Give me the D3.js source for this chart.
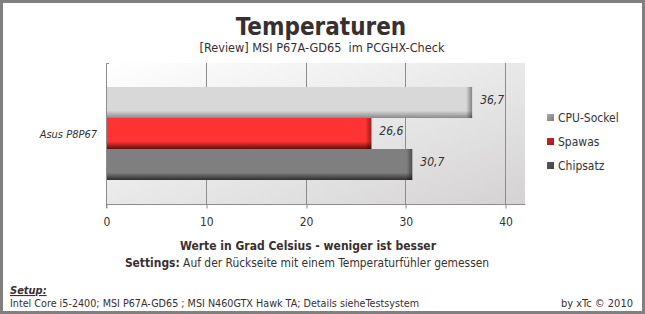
<!DOCTYPE html>
<html>
<head>
<meta charset="utf-8">
<script src="https://cdn.jsdelivr.net/npm/d3@7"></script>
<style>
  body { margin: 0; background: #fff; }
  svg { display: block; }
  text { font-family: "DejaVu Sans Condensed", "DejaVu Sans", sans-serif; fill: #383030; }
</style>
</head>
<body>
<div class="canvas"></div>
<script>
// data
const categories = ['Asus P8P67'];
const seriesNames = ['CPU-Sockel', 'Spawas', 'Chipsatz'];
const seriesValues = [36.7, 26.6, 30.7];
const xTicks = [0, 10, 20, 30, 40];

const barColors = {
    'CPU-Sockel': { base: '#d8d8d8', dark: '#8a8a8a', legend: '#8c8c8c' },
    'Spawas': { base: '#ff3333', dark: '#5a1010', legend: '#a82020' },
    'Chipsatz': { base: '#7f7f7f', dark: '#2e2e2e', legend: '#4a4a4a' }
};

const width = 645, height = 314;

const svg = d3.select('.canvas')
    .append('svg')
    .attr('width', width)
    .attr('height', height);

const defs = svg.append('defs');

// plot background gradient
const bg = defs.append('linearGradient')
    .attr('id', 'bg')
    .attr('x1', '0%').attr('y1', '0%')
    .attr('x2', '100%').attr('y2', '100%');
bg.append('stop').attr('offset', '0%').attr('stop-color', '#ffffff');
bg.append('stop').attr('offset', '100%').attr('stop-color', '#d4d2d2');

// bar gradients (flat top, darker bottom edge)
seriesNames.forEach((name, i) => {
    const c = barColors[name];
    const g = defs.append('linearGradient')
        .attr('id', 'bar' + i)
        .attr('x1', 0).attr('y1', 0).attr('x2', 0).attr('y2', 1);
    g.append('stop').attr('offset', '0%').attr('stop-color', c.base);
    g.append('stop').attr('offset', '76%').attr('stop-color', c.base);
    g.append('stop').attr('offset', '100%').attr('stop-color', c.dark);

    const lg = defs.append('linearGradient')
        .attr('id', 'leg' + i)
        .attr('x1', 0).attr('y1', 0).attr('x2', 1).attr('y2', 1);
    lg.append('stop').attr('offset', '0%').attr('stop-color', d3.color(c.legend).brighter(0.6));
    lg.append('stop').attr('offset', '100%').attr('stop-color', d3.color(c.legend).darker(0.4));
});

const cap = defs.append('linearGradient')
    .attr('id', 'cap')
    .attr('x1', 0).attr('y1', 0).attr('x2', 1).attr('y2', 0);
cap.append('stop').attr('offset', '0%').attr('stop-color', '#000').attr('stop-opacity', 0);
cap.append('stop').attr('offset', '100%').attr('stop-color', '#000').attr('stop-opacity', 0.4);

// frame
svg.append('rect')
    .attr('x', 1.5).attr('y', 1.5)
    .attr('width', width - 3).attr('height', height - 3)
    .attr('fill', '#fff')
    .attr('stroke', '#808080')
    .attr('stroke-width', 3);

// plot area
const plot = { left: 106, right: 525, top: 63, bottom: 204 };

const x = d3.scaleLinear()
    .domain([0, 42])
    .range([plot.left, plot.right]);

const yCat = d3.scaleBand()
    .domain(categories)
    .range([plot.top, plot.bottom])
    .paddingInner(0)
    .paddingOuter(0.258);

const ySer = d3.scaleBand()
    .domain(seriesNames)
    .range([0, yCat.bandwidth()]);

svg.append('rect')
    .attr('x', plot.left).attr('y', plot.top)
    .attr('width', plot.right - plot.left)
    .attr('height', plot.bottom - plot.top)
    .attr('fill', 'url(#bg)');

// gridlines
svg.append('g')
    .selectAll('line')
    .data(xTicks.slice(1))
    .enter().append('line')
    .attr('x1', d => Math.round(x(d)) + 0.5)
    .attr('x2', d => Math.round(x(d)) + 0.5)
    .attr('y1', plot.top)
    .attr('y2', plot.bottom)
    .attr('stroke', '#8c8c8c');

// axes
const xAxis = d3.axisBottom(x)
    .tickValues(xTicks)
    .tickSize(4)
    .tickPadding(9)
    .tickFormat(d3.format('d'));

const xAxisGroup = svg.append('g')
    .attr('transform', `translate(0.5, ${plot.bottom + 0.5})`)
    .call(xAxis);

xAxisGroup.select('.domain')
    .attr('d', `M${plot.left - 0.5},0H${plot.right}`)
    .attr('stroke', '#8c8c8c');
xAxisGroup.selectAll('.tick line').attr('stroke', '#8c8c8c');
xAxisGroup.selectAll('.tick line')
    .attr('transform', d => `translate(${Math.round(x(d)) - x(d)},0)`);
xAxisGroup.selectAll('.tick text')
    .attr('font-size', 12)
    .attr('font-family', '"DejaVu Sans Condensed", "DejaVu Sans", sans-serif')
    .attr('fill', '#383030');

// left axis line
svg.append('path')
    .attr('d', `M${plot.left + 3},${plot.top + 0.5}H${plot.left + 0.5}V${plot.bottom + 4}`)
    .attr('fill', 'none')
    .attr('stroke', '#8c8c8c');

// category label
svg.selectAll('.cat')
    .data(categories)
    .enter().append('text')
    .attr('class', 'cat')
    .attr('x', 97)
    .attr('y', d => yCat(d) + yCat.bandwidth() / 2 + 4)
    .attr('text-anchor', 'end')
    .attr('font-size', 11)
    .attr('font-style', 'italic')
    .style('fill', '#333')
    .text(d => d);

// bars
const bars = svg.append('g')
    .attr('transform', `translate(0, ${yCat(categories[0])})`);

const barData = seriesNames.map((name, i) => ({ name, value: seriesValues[i], i }));

bars.selectAll('rect.bar')
    .data(barData)
    .enter().append('rect')
    .attr('class', 'bar')
    .attr('x', x(0) + 1)
    .attr('y', d => ySer(d.name))
    .attr('width', d => x(d.value) - x(0) - 1)
    .attr('height', ySer.bandwidth())
    .attr('fill', d => `url(#bar${d.i})`);

bars.selectAll('rect.cap')
    .data(barData)
    .enter().append('rect')
    .attr('class', 'cap')
    .attr('x', d => x(d.value) - 6)
    .attr('y', d => ySer(d.name))
    .attr('width', 6)
    .attr('height', ySer.bandwidth())
    .attr('fill', 'url(#cap)');

bars.selectAll('text.val')
    .data(barData)
    .enter().append('text')
    .attr('class', 'val')
    .attr('x', d => x(d.value) + 8)
    .attr('y', d => ySer(d.name) + ySer.bandwidth() / 2 + 2)
    .attr('font-size', 12)
    .attr('font-style', 'italic')
    .style('fill', '#333')
    .text(d => d3.format('.1f')(d.value).replace('.', ','));

// legend
const legend = svg.append('g')
    .selectAll('g')
    .data(seriesNames)
    .enter().append('g')
    .attr('transform', (d, i) => `translate(547, ${118 + i * 24})`);

legend.append('rect')
    .attr('x', 0).attr('y', -4)
    .attr('width', 7).attr('height', 7)
    .attr('fill', (d, i) => `url(#leg${i})`);

legend.append('text')
    .attr('x', 11)
    .attr('y', 4)
    .attr('font-size', 12)
    .style('fill', '#333')
    .text(d => d);

// titles
svg.append('text')
    .attr('x', 321).attr('y', 35)
    .attr('text-anchor', 'middle')
    .attr('font-size', 24)
    .attr('font-weight', 'bold')
    .text('Temperaturen');

svg.append('text')
    .attr('x', 322).attr('y', 52)
    .attr('text-anchor', 'middle')
    .attr('font-size', 12.6)
    .text('[Review] MSI P67A-GD65  im PCGHX-Check')
    .style('white-space', 'pre');

svg.append('text')
    .attr('x', 308).attr('y', 250)
    .attr('text-anchor', 'middle')
    .attr('font-size', 12)
    .attr('font-weight', 'bold')
    .text('Werte in Grad Celsius - weniger ist besser');

const settings = svg.append('text')
    .attr('x', 307).attr('y', 267)
    .attr('text-anchor', 'middle')
    .attr('font-size', 11.9);
settings.append('tspan').attr('font-weight', 'bold').text('Settings:');
settings.append('tspan').text(' Auf der Rückseite mit einem Temperaturfühler gemessen');

// footer
svg.append('text')
    .attr('x', 10).attr('y', 294)
    .attr('font-size', 11)
    .attr('font-weight', 'bold')
    .attr('font-style', 'italic')
    .attr('text-decoration', 'underline')
    .text('Setup:');

svg.append('text')
    .attr('x', 10).attr('y', 307)
    .attr('font-size', 10.7)
    .text('Intel Core i5-2400; MSI P67A-GD65 ; MSI N460GTX Hawk TA; Details sieheTestsystem');

svg.append('text')
    .attr('x', 633).attr('y', 307)
    .attr('text-anchor', 'end')
    .attr('font-size', 11)
    .text('by xTc © 2010');
</script>
</body>
</html>
